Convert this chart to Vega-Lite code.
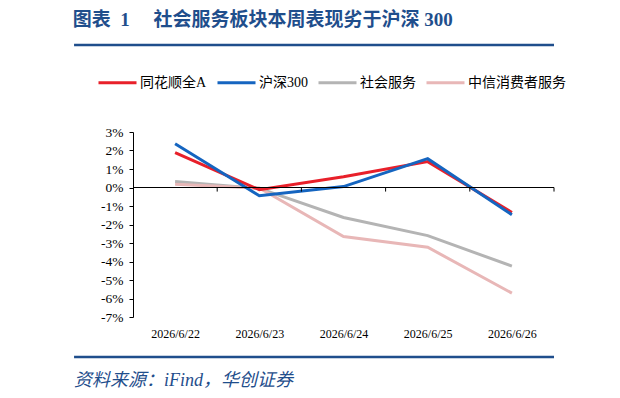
{
  "$schema": "https://vega.github.io/schema/vega-lite/v6.json",
  "background": "white",
  "padding": {"left": 72, "top": 10, "right": 10, "bottom": 6},
  "width": 421,
  "height": 185,
  "title": {
    "text": "图表\u20021 \u3000社会服务板块本周表现劣于沪深 300",
    "anchor": "start",
    "frame": "bounds",
    "font": "Liberation Serif, Noto Sans CJK SC",
    "fontSize": 19,
    "fontWeight": "bold",
    "color": "#1F4E8C",
    "offset": 14
  },
  "config": {"view": {"stroke": null}},
  "datasets": {
    "perf": [
      {"day": 22, "series": "社会服务", "value": 0.32},
      {"day": 23, "series": "社会服务", "value": -0.05},
      {"day": 24, "series": "社会服务", "value": -1.62},
      {"day": 25, "series": "社会服务", "value": -2.6},
      {"day": 26, "series": "社会服务", "value": -4.25},
      {"day": 22, "series": "中信消费者服务", "value": 0.18},
      {"day": 23, "series": "中信消费者服务", "value": -0.03},
      {"day": 24, "series": "中信消费者服务", "value": -2.65},
      {"day": 25, "series": "中信消费者服务", "value": -3.23},
      {"day": 26, "series": "中信消费者服务", "value": -5.71},
      {"day": 22, "series": "同花顺全A", "value": 1.88},
      {"day": 23, "series": "同花顺全A", "value": -0.12},
      {"day": 24, "series": "同花顺全A", "value": 0.58},
      {"day": 25, "series": "同花顺全A", "value": 1.4},
      {"day": 26, "series": "同花顺全A", "value": -1.35},
      {"day": 22, "series": "沪深300", "value": 2.37},
      {"day": 23, "series": "沪深300", "value": -0.45},
      {"day": 24, "series": "沪深300", "value": 0.05},
      {"day": 25, "series": "沪深300", "value": 1.56},
      {"day": 26, "series": "沪深300", "value": -1.47}
    ],
    "dayEdges": [
      {"edge": 22.5},
      {"edge": 23.5},
      {"edge": 24.5},
      {"edge": 25.5},
      {"edge": 26.5}
    ]
  },
  "layer": [
    {
      "data": {"name": "perf"},
      "mark": {"type": "line", "strokeWidth": 3},
      "encoding": {
        "x": {
          "field": "day", "type": "quantitative",
          "scale": {"domain": [21.5, 26.5], "nice": false, "zero": false},
          "axis": {
            "title": null, "domain": false, "ticks": false, "grid": false,
            "values": [22, 23, 24, 25, 26], "tickCount": 5,
            "labelExpr": "'2026/6/' + datum.value",
            "labelFlush": false, "labelOverlap": false,
            "labelAngle": 0, "labelAlign": "center", "labelPadding": 11,
            "labelFont": "Liberation Serif", "labelFontSize": 12, "labelColor": "#000000"
          }
        },
        "y": {
          "field": "value", "type": "quantitative",
          "scale": {"domain": [-7, 3], "nice": false, "zero": false},
          "axis": {
            "title": null, "grid": false,
            "values": [-7, -6, -5, -4, -3, -2, -1, 0, 1, 2, 3], "tickCount": 11,
            "labelOverlap": false, "labelFlush": false,
            "labelExpr": "datum.value + '%'",
            "domainColor": "#000000", "tickColor": "#000000", "tickSize": 4,
            "labelPadding": 6, "labelAlign": "right",
            "labelFont": "Liberation Serif", "labelFontSize": 13.5, "labelColor": "#000000"
          }
        },
        "color": {
          "field": "series", "type": "nominal",
          "scale": {
            "domain": ["同花顺全A", "沪深300", "社会服务", "中信消费者服务"],
            "range": ["#E8202A", "#1565C0", "#B4B4B4", "#E8B7B7"]
          },
          "legend": {
            "orient": "none", "legendX": -36, "legendY": -70,
            "direction": "horizontal", "title": null,
            "symbolType": "stroke", "symbolSize": 1444, "symbolStrokeWidth": 3,
            "labelFont": "Liberation Serif, Noto Sans CJK SC", "labelFontSize": 14,
            "labelColor": "#000000", "labelOffset": 2, "columnPadding": 4
          }
        }
      }
    },
    {
      "data": {"values": [{}]},
      "mark": {"type": "rule", "color": "#000000", "strokeWidth": 1},
      "encoding": {
        "y": {"datum": 0, "type": "quantitative"}
      }
    },
    {
      "data": {"name": "dayEdges"},
      "mark": {"type": "rule", "color": "#000000", "strokeWidth": 1},
      "encoding": {
        "x": {"field": "edge", "type": "quantitative"},
        "y": {"datum": 0, "type": "quantitative"},
        "y2": {"datum": -0.22}
      }
    },
    {
      "data": {"values": [{}]},
      "mark": {"type": "rule", "color": "#1F4E8C", "strokeWidth": 2.5},
      "encoding": {
        "x": {"datum": 20.8, "type": "quantitative"},
        "x2": {"datum": 26.5},
        "y": {"datum": 7.7, "type": "quantitative"}
      }
    },
    {
      "data": {"values": [{}]},
      "mark": {"type": "rule", "color": "#1F4E8C", "strokeWidth": 2.5},
      "encoding": {
        "x": {"datum": 20.8, "type": "quantitative"},
        "x2": {"datum": 26.5},
        "y": {"datum": -9.16, "type": "quantitative"}
      }
    },
    {
      "data": {"values": [{}]},
      "mark": {
        "type": "text", "align": "left", "baseline": "middle",
        "font": "Liberation Serif, Noto Sans CJK SC",
        "fontSize": 18, "fontStyle": "italic", "color": "#1F4E8C"
      },
      "encoding": {
        "x": {"datum": 20.8, "type": "quantitative"},
        "y": {"datum": -10.46, "type": "quantitative"},
        "text": {"value": "资料来源：iFind，华创证券"}
      }
    }
  ]
}
